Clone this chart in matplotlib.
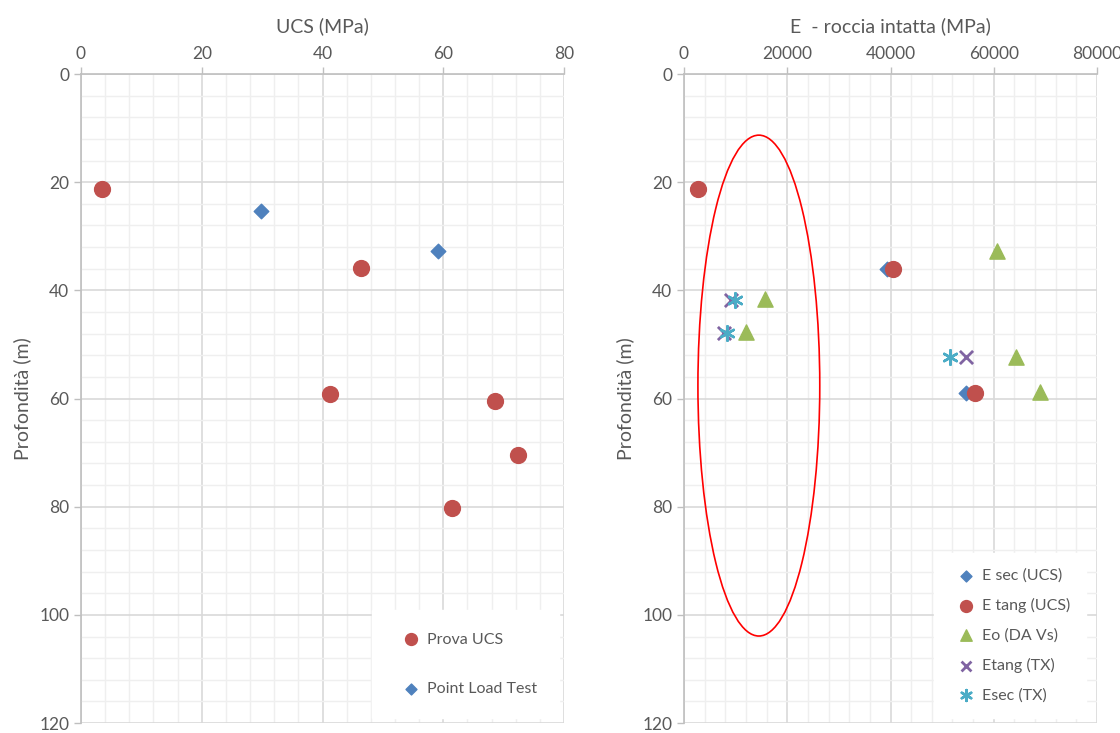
import matplotlib.pyplot as plt
from matplotlib.patches import Ellipse
from matplotlib.ticker import MultipleLocator

plt.rcParams['font.family'] = ['Lato', 'DejaVu Sans']

# UCS - prova di laboratorio e point load
ucs_prova_x = [3.5, 46.4, 41.2, 68.5, 72.3, 61.4]
ucs_prova_z = [21.2, 35.9, 59.1, 60.4, 70.5, 80.3]
ucs_plt_x = [29.8, 59.1]
ucs_plt_z = [25.4, 32.8]

# Moduli E roccia intatta (MPa)
esec_ucs_x = [39300, 54700]
esec_ucs_z = [36.0, 59.0]
etang_ucs_x = [2700, 40500, 56400]
etang_ucs_z = [21.2, 36.0, 59.0]
eo_vs_x = [60700, 15700, 12000, 64300, 69000]
eo_vs_z = [32.8, 41.6, 47.7, 52.3, 58.8]
etang_tx_x = [9200, 7800, 54700]
etang_tx_z = [41.8, 47.9, 52.4]
esec_tx_x = [9900, 8300, 51500]
esec_tx_z = [41.8, 47.9, 52.4]

C_BLUE = '#4F81BD'
C_RED = '#C0504D'
C_GREEN = '#9BBB59'
C_PURPLE = '#8064A2'
C_CYAN = '#4BACC6'
TXT = '#595959'

fig = plt.figure(figsize=(11.2, 7.33), dpi=100)
ax1 = fig.add_axes([0.0723, 0.0135, 0.4313, 0.8855])
ax2 = fig.add_axes([0.6107, 0.0135, 0.3688, 0.8855])


def style_axis(ax, xmax, xstep, label):
    ax.set_xlim(0, xmax)
    ax.set_ylim(120, 0)
    ax.xaxis.set_major_locator(MultipleLocator(xstep))
    ax.xaxis.set_minor_locator(MultipleLocator(xstep / 5))
    ax.yaxis.set_major_locator(MultipleLocator(20))
    ax.yaxis.set_minor_locator(MultipleLocator(4))
    ax.xaxis.tick_top()
    ax.xaxis.set_label_position('top')
    ax.set_xlabel(label, fontsize=14, color=TXT, labelpad=10)
    ax.grid(which='major', color='#d9d9d9', lw=1.2)
    ax.grid(which='minor', color='#efefef', lw=1.0)
    ax.set_axisbelow(True)
    ax.tick_params(which='major', colors='#bfbfbf', labelcolor=TXT,
                   labelsize=12.5, length=5, width=1)
    ax.tick_params(which='minor', length=0)
    for side in ['right', 'bottom']:
        ax.spines[side].set_visible(False)
    for side in ['left', 'top']:
        ax.spines[side].set_color('#bfbfbf')
        ax.spines[side].set_linewidth(1.2)


style_axis(ax1, 80, 20, 'UCS (MPa)')
style_axis(ax2, 80000, 20000, 'E  - roccia intatta (MPa)')
ax1.set_ylabel('Profondità (m)', fontsize=14, color=TXT, labelpad=6)
ax2.set_ylabel('Profondità (m)', fontsize=14, color=TXT, labelpad=6)

ax1.scatter(ucs_prova_x, ucs_prova_z, s=130, marker='o', color=C_RED,
            label='Prova UCS', zorder=3)
ax1.scatter(ucs_plt_x, ucs_plt_z, s=55, marker='D', color=C_BLUE,
            label='Point Load Test', zorder=3)
leg1 = ax1.legend(loc='lower right', bbox_to_anchor=(1.0, 0.0),
                  fontsize=11.5, labelspacing=2.2, handletextpad=0.0,
                  borderpad=1.4, borderaxespad=0.3, markerscale=0.75,
                  fancybox=False, framealpha=1, edgecolor='white')
for t in leg1.get_texts():
    t.set_color(TXT)

ax2.scatter(esec_ucs_x, esec_ucs_z, s=55, marker='D', color=C_BLUE,
            label='E sec (UCS)', zorder=3)
ax2.scatter(etang_ucs_x, etang_ucs_z, s=130, marker='o', color=C_RED,
            label='E tang (UCS)', zorder=3)
ax2.scatter(eo_vs_x, eo_vs_z, s=120, marker='^', color=C_GREEN,
            label='Eo (DA Vs)', zorder=3)
ax2.scatter(etang_tx_x, etang_tx_z, s=90, marker='x', color=C_PURPLE,
            linewidths=2, label='Etang (TX)', zorder=3)
ax2.scatter(esec_tx_x, esec_tx_z, s=110, marker=(6, 2, 0), color=C_CYAN,
            linewidths=1.8, label='Esec (TX)', zorder=3)

ax2.add_patch(Ellipse((14500, 57.6), 23600, 92.6, fill=False,
                      edgecolor='red', lw=1.2, zorder=4))

leg2 = ax2.legend(loc='lower right', bbox_to_anchor=(0.985, 0.0),
                  fontsize=11.5, labelspacing=0.95, handletextpad=0.0,
                  borderpad=1.0, borderaxespad=0.3, markerscale=0.75,
                  fancybox=False, framealpha=1, edgecolor='white')
for t in leg2.get_texts():
    t.set_color(TXT)

fig.savefig('out.png', dpi=100)
